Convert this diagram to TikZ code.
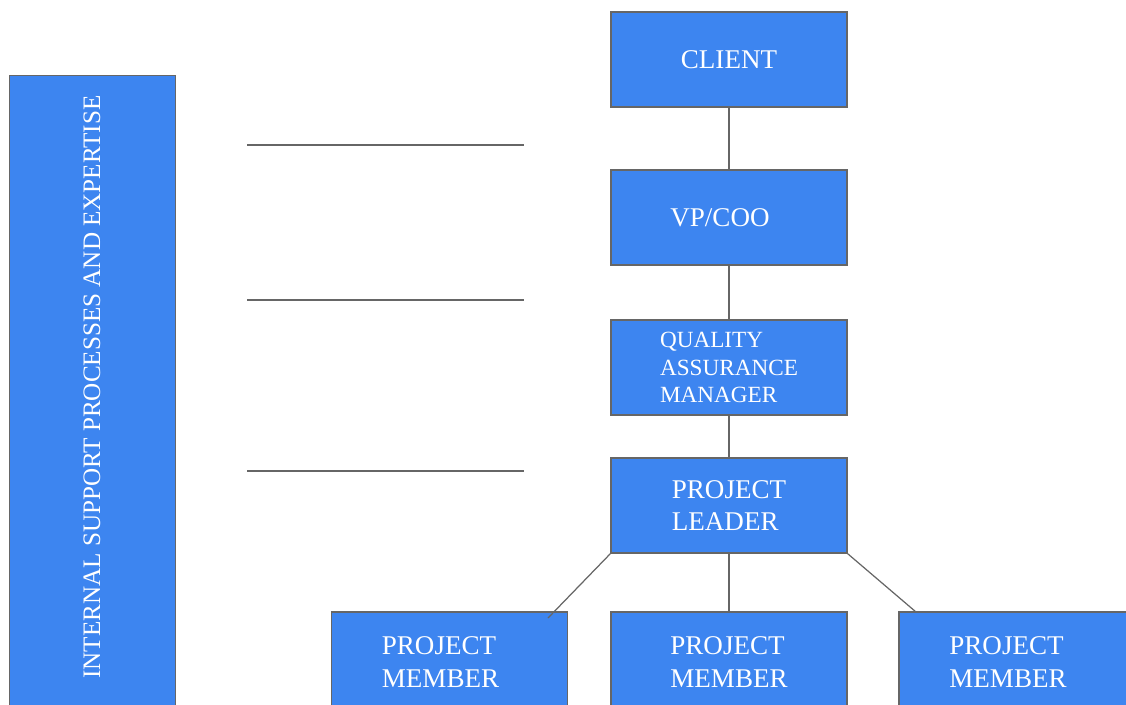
\documentclass[tikz,border=0pt]{standalone}
\usepackage{fontspec}
\setmainfont{Liberation Serif}
\usetikzlibrary{positioning}
\definecolor{boxblue}{RGB}{61,133,240}
\definecolor{edgegray}{RGB}{102,102,102}
\newcommand{\padR}{\hspace*{0.36cm}}

\begin{document}
\begin{tikzpicture}[x=0.02cm,y=-0.02cm,
    orgbox/.style={draw=edgegray, line width=0.85pt, fill=boxblue, text=white,
      minimum width=4.72cm, minimum height=1.9cm, inner sep=0pt, align=left,
      font=\fontsize{15.4}{18.4}\selectfont},
    memberbox/.style={orgbox, minimum height=2.02cm, font=\fontsize{15.4}{18.8}\selectfont},
    link/.style={draw=edgegray, line width=0.7pt}]
    \useasboundingbox (0,0) rectangle (1126,704);
    \clip (0,0) rectangle (1126,704);

    % Side bar
    \node[orgbox, minimum width=3.32cm, minimum height=12.9cm, anchor=north west] (support) at (9,75) {};
    \node[text=white, rotate=90, font=\fontsize{14.3}{17}\selectfont] (supporttext) at (92,387)
      {INTERNAL SUPPORT PROCESSES AND EXPERTISE};

    % Blank lines
    \draw[link] (247,145) -- (524,145);
    \draw[link] (247,300) -- (524,300);
    \draw[link] (247,471) -- (524,471);

    % Chain
    \node[orgbox] (client) at (729,59.5) {CLIENT};
    \node[orgbox] (vp) at (729,217.5) {VP/COO\padR};
    \node[orgbox, font=\fontsize{13.2}{15.7}\selectfont] (qa) at (729,367.5) {QUALITY\\ASSURANCE\\MANAGER};
    \node[orgbox, font=\fontsize{15.4}{18.3}\selectfont] (leader) at (729,505.5) {PROJECT\\LEADER};

    % Members
    \node[memberbox] (memberL) at (449.5,662.5) {PROJECT\padR\\MEMBER\padR};
    \node[memberbox] (memberM) at (729,662.5) {PROJECT\\MEMBER};
    \node[memberbox] (memberR) at (1017,662.5) {PROJECT\padR\\MEMBER\padR};

    % Links
    \coordinate (endL) at (548,618);
    \coordinate (endR) at (916,612);
    \draw[link] (client) -- (vp);
    \draw[link] (vp) -- (qa);
    \draw[link] (qa) -- (leader);
    \draw[link] (leader) -- (memberM);
    \draw[link] (leader.south west) -- (endL);
    \draw[link] (leader.south east) -- (endR);
\end{tikzpicture}
\end{document}
